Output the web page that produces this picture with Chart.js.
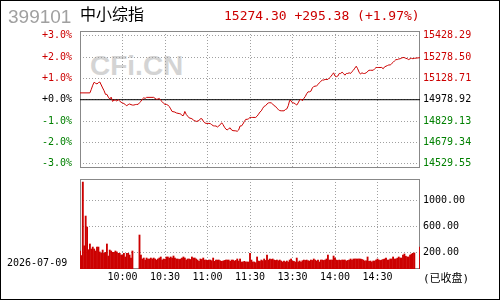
<!DOCTYPE html>
<html>
<head>
<meta charset="utf-8">
<script src="https://cdn.jsdelivr.net/npm/chart.js@4.4.1/dist/chart.umd.min.js"></script>
<style>
    html, body { margin: 0; padding: 0; background: #fff; }
    #wrap { position: relative; width: 500px; height: 300px; overflow: hidden; }
    #frame { position: absolute; left: 0; top: 0; width: 500px; height: 300px; box-sizing: border-box; border: 1px solid #000; pointer-events: none; z-index: 5; }
    canvas { position: absolute; left: 0; z-index: 2; }
    .t { position: absolute; white-space: pre; z-index: 3; }
    #code { left: 8px; top: 7px; font: 19px/19px 'Liberation Sans', sans-serif; color: #a0a0a0; }
    #name { left: 80px; top: 5px; font: 16px/16px 'Noto Sans CJK SC', sans-serif; color: #000; }
    #quote { left: 224px; top: 9px; font: 13px/13px 'DejaVu Sans Mono', monospace; color: #cc0000; }
    #date { left: 7px; top: 258px; font: 10px/10px 'DejaVu Sans Mono', monospace; color: #000; }
    #closed { left: 423px; top: 273px; font: 11px/11px 'DejaVu Sans Mono', 'Noto Sans CJK SC', monospace; color: #000; }
    #mark { left: 90px; top: 52px; font: bold 28px/28px 'Liberation Sans', sans-serif; color: #d4d4d4; z-index: 1; }
</style>
</head>
<body>
<div id="wrap">
    <div class="t" id="code">399101</div>
    <div class="t" id="name">中小综指</div>
    <div class="t" id="quote">15274.30 +295.38 (+1.97%)</div>
    <div class="t" id="mark">CFi.CN</div>
    <div class="t" id="date">2026-07-09</div>
    <div class="t" id="closed">(已收盘)</div>
    <canvas id="priceChart" width="500" height="175" style="top:0"></canvas>
    <canvas id="volChart" width="500" height="125" style="top:175px"></canvas>
    <div id="frame"></div>
</div>
<script>
// ==================== DATA ====================
const PREV_CLOSE = 14978.92;

// minute index (0 = 9:30, 120 = 11:30/13:00, 240 = 15:00) and % change vs previous close
const LINE_MIN = [
    0, 7, 8, 9, 10, 11, 12, 13, 14, 15, 16, 17, 18, 19, 20, 21, 22, 23, 24, 25,
    26, 27, 28, 29, 30, 31, 32, 33, 34, 35, 36, 37, 38, 39, 40, 41, 42, 43, 44, 45,
    46, 47, 52, 53, 54, 55, 56, 57, 58, 59, 60, 61, 62, 63, 64, 65, 67, 68, 70, 71,
    72, 73, 74, 75, 76, 77, 79, 80, 81, 82, 84, 85, 86, 87, 88, 89, 91, 92, 93, 94,
    95, 96, 97, 99, 100, 101, 102, 103, 104, 105, 106, 107, 108, 110, 111, 112, 113, 114, 115, 116,
    117, 118, 119, 120,
    121, 122, 124, 125, 126, 127, 128, 129, 130, 131, 132, 133, 134, 135, 136, 137, 138, 139, 140, 141,
    142, 144, 145, 146, 147, 148, 149, 150, 151, 152, 153, 154, 155, 156, 157, 158, 159, 160, 161, 162,
    163, 164, 165, 167, 168, 169, 170, 171, 172, 173, 175, 176, 177, 178, 179, 180, 181, 182, 183, 184,
    185, 186, 187, 188, 189, 190, 191, 192, 193, 194, 195, 196, 197, 198, 199, 200, 201, 202, 204, 205,
    207, 208, 209, 210, 211, 213, 214, 215, 216, 217, 218, 219, 220, 221, 222, 223, 224, 225, 226, 227,
    228, 229, 230, 231, 232, 233, 234, 235, 236, 240
];
const LINE_PCT = [
    0.32, 0.32, 0.49, 0.68, 0.82, 0.77, 0.74, 0.80, 0.83, 0.69, 0.55, 0.42, 0.25, 0.25, 0.12, 0.03, 0.12, -0.08, -0.02, -0.02,
    -0.06, 0.00, -0.06, -0.12, -0.15, -0.18, -0.23, -0.28, -0.23, -0.20, -0.23, -0.25, -0.25, -0.23, -0.22, -0.22, -0.14, -0.08, 0.03, 0.09,
    0.06, 0.11, 0.11, 0.06, 0.02, 0.03, 0.06, -0.03, -0.09, -0.17, -0.22, -0.22, -0.25, -0.32, -0.43, -0.55, -0.58, -0.62, -0.65, -0.66,
    -0.74, -0.74, -0.55, -0.69, -0.77, -0.85, -0.89, -0.95, -0.98, -1.02, -0.98, -0.89, -0.89, -1.00, -1.08, -1.11, -1.11, -1.12, -1.17, -1.22,
    -1.23, -1.23, -1.28, -1.17, -1.08, -1.17, -1.29, -1.38, -1.42, -1.35, -1.32, -1.42, -1.45, -1.46, -1.48, -1.42, -1.23, -1.23, -1.14, -1.02,
    -0.92, -0.92, -0.89, -0.83,
    -0.83, -0.83, -0.83, -0.77, -0.68, -0.58, -0.52, -0.40, -0.31, -0.28, -0.20, -0.15, -0.14, -0.15, -0.20, -0.28, -0.31, -0.40, -0.46, -0.51,
    -0.52, -0.52, -0.46, -0.43, -0.28, -0.03, -0.05, -0.15, -0.15, -0.20, -0.25, -0.15, -0.02, 0.03, -0.05, 0.06, 0.15, 0.28, 0.37, 0.37,
    0.40, 0.55, 0.62, 0.65, 0.71, 0.80, 0.86, 0.92, 0.92, 0.95, 0.95, 1.02, 1.08, 1.17, 1.26, 1.11, 1.08, 1.11, 1.23, 1.23,
    1.29, 1.23, 1.15, 1.23, 1.23, 1.26, 1.23, 1.32, 1.38, 1.48, 1.57, 1.45, 1.29, 1.20, 1.26, 1.23, 1.23, 1.26, 1.38, 1.38,
    1.38, 1.45, 1.51, 1.51, 1.51, 1.51, 1.45, 1.54, 1.57, 1.60, 1.63, 1.63, 1.69, 1.75, 1.82, 1.88, 1.88, 1.91, 1.92, 1.95,
    1.98, 1.97, 1.94, 1.92, 1.88, 1.92, 1.94, 1.92, 1.94, 1.97
];

// volume per minute, index 0..240 (null = no trades)
const VOLUME = [
    220, 150, 1281, 300, 758, 589, 240, 328, 251, 281,
    251, 220, 281, 281, 205, 184, 235, 184, 200, 328,
    143, 235, 220, 200, 200, 220, 205, 184, 184, 158,
    158, 184, 128, 184, 184, 158, 112, 220, null, null,
    null, null, 466, 158, 97, 112, 81, 112, 97, 97,
    112, 97, 112, 97, 81, 97, 112, 128, 81, 97,
    90, 128, 128, 110, 128, 112, 143, 112, 97, 97,
    90, 97, 112, 128, 112, 81, 97, 97, 90, 128,
    112, 112, 97, 81, 61, 97, 90, 112, 81, 81,
    75, 81, 81, 70, 112, 61, 81, 81, 81, 70,
    61, 66, 75, 81, 81, 81, 61, 81, 81, 66,
    75, 97, 66, 97, 51, 51, 61, 51, 51, 51,
    184,
    81, 51, 51, 40, 128, 66, 60, 81, 70, 97,
    75, 158, 80, 97, 90, 97, 81, 75, 81, 70,
    81, 66, 51, 66, 51, 66, 51, 81, 97, 66,
    60, 50, 112, 51, 66, 51, 70, 81, 75, 81,
    70, 66, 81, 75, 97, 81, 66, 81, 51, 81,
    81, 75, 81, 97, 158, 81, 81, 81, 143, 112,
    81, 75, 81, 75, 81, 81, 81, 66, 75, 81,
    97, 81, 97, 97, 97, 97, 97, 97, 90, 81,
    66, 70, 128, 60, 66, 51, 66, 66, 81, 97,
    81, 75, 81, 90, 97, 112, 81, 81, 97, 97,
    128, 97, 97, 110, 128, 112, 112, 158, 174, 140,
    128, 128, 158, 174, 184, 190, null, null, null, 281
];

const TIME_TICKS = [30, 60, 90, 120, 150, 180, 210];
const TIME_LABELS = ['10:00', '10:30', '11:00', '11:30', '13:30', '14:00', '14:30'];
const PCT_TICKS = [-3, -2, -1, 0, 1, 2, 3];
const VOL_TICKS = [200, 600, 1000];

// ==================== STYLE ====================
const RED = '#cc0000';
const GREEN = '#008000';
const GRID = '#a0a0a0';
const PCT_MIN = -3.2;
const PCT_MAX = 3.22;
const VOL_MIN = -57;
const VOL_MAX = 1328;
const tickFont = { family: 'DejaVu Sans Mono', size: 10 };

function pctColor(p) {
    if (p > 0) return RED;
    if (p < 0) return GREEN;
    return '#000';
}

// fixed axis size, no extra label padding pushed into the layout
function fixSize(w, h) {
    return s => {
        if (w !== null) s.width = w;
        if (h !== null) s.height = h;
        s.paddingTop = 0;
        s.paddingBottom = 0;
        s.paddingLeft = 0;
        s.paddingRight = 0;
    };
}

// gray frame around each plot area
const plotFrame = {
    id: 'plotFrame',
    beforeDatasetsDraw(chart) {
        const { ctx, chartArea: a } = chart;
        ctx.save();
        ctx.strokeStyle = '#888';
        ctx.lineWidth = 1;
        ctx.strokeRect(a.left + 0.5, a.top + 0.5, a.right - a.left - 1, a.bottom - a.top - 1);
        ctx.restore();
    }
};

const timeAxis = (showLabels) => ({
    type: 'linear',
    min: 0,
    max: 240,
    offset: false,
    afterBuildTicks: s => { s.ticks = TIME_TICKS.map(v => ({ value: v })); },
    afterFit: fixSize(null, showLabels ? 30 : 0),
    grid: { color: GRID, drawTicks: false, offset: false },
    border: { display: false, dash: [1, 2] },
    ticks: {
        display: showLabels,
        autoSkip: false,
        maxRotation: 0,
        padding: 2,
        color: '#000',
        font: tickFont,
        callback: (v, i) => TIME_LABELS[i]
    }
});

// ==================== PRICE CHART ====================
const priceLine = LINE_MIN.map((m, i) => ({ x: m, y: LINE_PCT[i] }));

new Chart(document.getElementById('priceChart'), {
    type: 'line',
    data: {
        datasets: [{
            data: priceLine,
            borderColor: RED,
            borderWidth: 1,
            pointRadius: 0,
            tension: 0,
            yAxisID: 'y',
            order: 0
        }, {
            // previous close reference
            data: [{ x: 0, y: 0 }, { x: 240, y: 0 }],
            borderColor: '#000',
            borderWidth: 1,
            pointRadius: 0,
            yAxisID: 'y',
            order: 1
        }]
    },
    options: {
        responsive: false,
        animation: false,
        layout: { padding: { top: 31, bottom: 7, left: 0, right: 0 } },
        plugins: { legend: { display: false }, tooltip: { enabled: false } },
        scales: {
            x: timeAxis(false),
            y: {
                position: 'left',
                min: PCT_MIN,
                max: PCT_MAX,
                afterBuildTicks: s => { s.ticks = PCT_TICKS.map(v => ({ value: v })); },
                afterFit: fixSize(80, null),
                grid: { color: GRID, drawTicks: false },
                border: { display: false, dash: [1, 2] },
                ticks: {
                    padding: 8,
                    font: tickFont,
                    color: c => pctColor(PCT_TICKS[c.index]),
                    callback: v => (v >= 0 ? '+' : '') + v.toFixed(1) + '%'
                }
            },
            y2: {
                position: 'right',
                min: PREV_CLOSE * (1 + PCT_MIN / 100),
                max: PREV_CLOSE * (1 + PCT_MAX / 100),
                afterBuildTicks: s => { s.ticks = PCT_TICKS.map(p => ({ value: PREV_CLOSE * (1 + p / 100) })); },
                afterFit: fixSize(80, null),
                grid: { display: false, drawTicks: false },
                border: { display: false },
                ticks: {
                    padding: 3,
                    font: tickFont,
                    color: c => pctColor(PCT_TICKS[c.index]),
                    callback: v => v.toFixed(2)
                }
            }
        }
    },
    plugins: [plotFrame]
});

// ==================== VOLUME CHART ====================
const volBars = VOLUME.map((v, i) => ({ x: i, y: v }));

new Chart(document.getElementById('volChart'), {
    type: 'bar',
    data: {
        datasets: [{
            data: volBars,
            backgroundColor: RED,
            borderWidth: 0,
            barThickness: 1.2,
            base: VOL_MIN
        }]
    },
    options: {
        responsive: false,
        animation: false,
        layout: { padding: { top: 4, bottom: 1, left: 80, right: 0 } },
        plugins: { legend: { display: false }, tooltip: { enabled: false } },
        scales: {
            x: timeAxis(true),
            y: {
                position: 'right',
                min: VOL_MIN,
                max: VOL_MAX,
                afterBuildTicks: s => { s.ticks = VOL_TICKS.map(v => ({ value: v })); },
                afterFit: fixSize(80, null),
                grid: { color: GRID, drawTicks: false },
                border: { display: false, dash: [1, 2] },
                ticks: {
                    padding: 3,
                    font: tickFont,
                    color: '#000',
                    callback: v => v.toFixed(2)
                }
            }
        }
    },
    plugins: [plotFrame]
});
</script>
</body>
</html>
